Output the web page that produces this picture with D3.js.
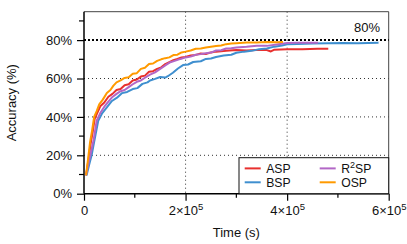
<!DOCTYPE html>
<html><head><meta charset="utf-8">
<script src="https://cdn.jsdelivr.net/npm/d3@7"></script>
<style>
body{margin:0;background:#fff;}
text{font-family:"Liberation Sans",Arial,Helvetica,sans-serif;fill:#111;}
</style></head><body>
<svg id="c" width="407" height="244"></svg>
<script>
// ---- data ----
const seriesNames = ["ASP", "BSP", "R2SP", "OSP"];
const aspTime = [4000,9000,13000,17000,21000,26000,32000,40000,48000,56000,64000,72000,80000,88000,96000,104000,112000,120000,128000,136000,144000,152000,160000,168000,176000,184000,192000,200000,210000,220000,230000,240000,250000,260000,280000,300000,320000,340000,360000,368000,375000,400000,430000,460000,481000];
const aspAcc  = [9.5,18,26,32,39,42,45.5,47.5,50.5,52,54,54.5,56.5,57,59,59.5,61,61.5,63.5,63.8,65,65.8,67.5,68.5,69.5,70.2,71,71.2,72,72.3,73,72.8,73.6,74,74.4,74.8,74.6,74.9,74.8,74.1,75,75.2,75.2,75.5,75.5];
const bspTime = [5000,10000,15000,20000,28000,36000,45000,55000,65000,75000,85000,96000,105000,115000,125000,130000,140000,150000,160000,165000,175000,185000,195000,205000,215000,230000,240000,250000,260000,275000,290000,300000,315000,330000,345000,360000,375000,390000,400000,420000,450000,480000,510000,540000,580000];
const bspAcc  = [9.5,15,20,27,38,42,45,48.3,50,52.4,53,54.5,55,57.2,58,59,59.8,60.8,60.5,61.2,63,65.2,67,67.3,68.6,69,70.2,70.4,71.2,72,72.4,73.4,74,74.4,75.3,75.6,76.6,77.2,77.8,78,78.3,78.4,78.5,78.4,78.6];
const r2spTime = [4000,9000,14000,19000,25000,32000,40000,48000,56000,64000,72000,80000,88000,96000,104000,112000,120000,130000,140000,150000,160000,170000,180000,190000,200000,210000,220000,230000,240000,250000,260000,270000,280000,290000,300000,320000,340000,360000,380000,400000,420000,440000,461000];
const r2spAcc  = [9.5,16,22,28,38,42,45.3,48,50.4,52,53.4,54,55.5,57,58.3,59,60.4,62,63.2,65,66.8,68.5,69.3,70.2,71,71.4,72.4,72.7,73.2,73.5,74.6,74.7,75.6,75.8,76.2,76.5,77.1,77,77.7,78.5,78.6,78.6,78.6];
const ospTime = [4000,8000,12000,16000,20000,25000,30000,37000,45000,52000,58000,64000,72000,80000,88000,96000,104000,112000,120000,128000,136000,144000,152000,160000,168000,176000,184000,192000,200000,210000,220000,230000,240000,250000,260000,270000,280000,290000,300000,320000,340000,360000,380000,392000];
const ospAcc  = [9.5,18,27,33,40,43,46.5,49,52.5,54,56.3,58,59,60.3,60.6,62.5,62.8,65,65.6,67.5,67.8,69.2,70,70.6,71,72.2,72.4,73.6,74,74.6,75.5,75.6,76.1,76.5,76.9,77.2,77.9,78.2,78.4,78.8,78.7,79,78.9,79];
const seriesColors = ["#e8302e", "#3f8fcf", "#b267c6", "#ff9a00"];
const yTicks = [0, 20, 40, 60, 80];
const yMinor = [10, 30, 50, 70, 90];
const xTicks = [0, 200000, 400000, 600000];
const xMinor = [100000, 300000, 500000];
const targetAcc = 80;

// ---- layout ----
const FS = 13;
const LFS = 12.2;
const svg = d3.select("#c");
const L = 84, R = 388.7, T = 11.7, B = 193.7;
const x = d3.scaleLinear().domain([0, 600000]).range([L, R]);
const y = d3.scaleLinear().domain([0, 94.8]).range([B, T]);

const series = [
  {name: "ASP", t: aspTime, v: aspAcc},
  {name: "BSP", t: bspTime, v: bspAcc},
  {name: "R2SP", t: r2spTime, v: r2spAcc},
  {name: "OSP", t: ospTime, v: ospAcc}
];

// grid
const g = svg.append("g");
g.selectAll(".hg").data(yTicks.filter(d => d > 0 && d !== targetAcc)).enter().append("line")
  .attr("x1", L).attr("x2", R).attr("y1", d => y(d)).attr("y2", d => y(d))
  .attr("stroke", "#333").attr("stroke-width", 1).attr("stroke-dasharray", "1,3");
g.selectAll(".vg").data(xTicks.filter(d => d > 0 && d < 600000)).enter().append("line")
  .attr("x1", d => x(d)).attr("x2", d => x(d)).attr("y1", T).attr("y2", B)
  .attr("stroke", "#333").attr("stroke-width", 1).attr("stroke-dasharray", "1,3");

// frame top/right
svg.append("line").attr("x1", L).attr("x2", R).attr("y1", T).attr("y2", T).attr("stroke", "#444").attr("stroke-width", 1);
svg.append("line").attr("x1", R).attr("x2", R).attr("y1", T).attr("y2", B).attr("stroke", "#444").attr("stroke-width", 1);

// lines
const line = d3.line().x(d => x(d[0])).y(d => y(d[1]));
series.forEach((s, i) => {
  svg.append("path").datum(s.t.map((t, j) => [t, s.v[j]]))
    .attr("fill", "none").attr("stroke", seriesColors[i]).attr("stroke-width", 2)
    .attr("stroke-linejoin", "round").attr("d", line);
});

// 80% target line
svg.append("line").attr("x1", L).attr("x2", R).attr("y1", y(targetAcc)).attr("y2", y(targetAcc))
  .attr("stroke", "#000").attr("stroke-width", 2).attr("stroke-dasharray", "2,2");
svg.append("text").attr("x", 380).attr("y", 32).attr("text-anchor", "end")
  .attr("font-size", FS).text(targetAcc + "%");

// axes
const yAxis = d3.axisLeft(y).tickValues(yTicks).tickSize(7).tickPadding(5).tickFormat(d => d + "%");
const ya = svg.append("g").attr("transform", `translate(${L},0)`).call(yAxis);
ya.select(".domain").attr("stroke-width", 1.5).attr("d", `M0,${B}V${T}`);
ya.selectAll(".tick line").attr("stroke-width", 1.2);
ya.selectAll("text").attr("font-size", FS).attr("font-family", "Liberation Sans, Arial, sans-serif").attr("fill", "#111");
ya.selectAll(".minor").data(yMinor).enter().append("line").attr("class", "minor")
  .attr("x1", -5).attr("x2", 0).attr("y1", d => y(d)).attr("y2", d => y(d)).attr("stroke", "#000").attr("stroke-width", 1.2);

const xAxis = d3.axisBottom(x).tickValues(xTicks).tickSize(7).tickPadding(4).tickFormat(() => "");
const xa = svg.append("g").attr("transform", `translate(0,${B})`).call(xAxis);
xa.select(".domain").attr("stroke-width", 1.5).attr("d", `M${L},0H${R}`);
xa.selectAll(".tick line").attr("stroke-width", 1.2);
xa.selectAll(".minor").data(xMinor).enter().append("line").attr("class", "minor")
  .attr("x1", d => x(d)).attr("x2", d => x(d)).attr("y1", 0).attr("y2", 4).attr("stroke", "#000").attr("stroke-width", 1.2);
xa.selectAll(".tick").each(function(d) {
  const t = d3.select(this).select("text").attr("font-size", FS).attr("fill", "#111")
    .attr("font-family", "Liberation Sans, Arial, sans-serif").attr("dy", null).attr("y", 21.5);
  if (d === 0) { t.text("0"); }
  else {
    t.text(null);
    t.append("tspan").text((d / 100000) + "×10");
    t.append("tspan").attr("font-size", 9.5).attr("dy", -5.5).text("5");
  }
});

// axis titles
svg.append("text").attr("transform", `translate(16,${(T + B) / 2}) rotate(-90)`)
  .attr("text-anchor", "middle").attr("font-size", FS).text("Accuracy (%)");
svg.append("text").attr("x", (L + R) / 2).attr("y", 237).attr("text-anchor", "middle")
  .attr("font-size", FS).text("Time (s)");

// legend
const lg = svg.append("g");
lg.append("rect").attr("x", 239).attr("y", 157.7).attr("width", R - 239).attr("height", B - 157.7)
  .attr("fill", "#fff").attr("stroke", "#111").attr("stroke-width", 1);
const legPos = [[244.7, 168.4], [244.7, 182.3], [319.7, 168.4], [319.7, 182.3]];
series.forEach((s, i) => {
  const [lx, ly] = legPos[i];
  lg.append("line").attr("x1", lx).attr("x2", lx + 16).attr("y1", ly).attr("y2", ly)
    .attr("stroke", seriesColors[i]).attr("stroke-width", 2);
  const tx = lg.append("text").attr("x", lx + 21.5).attr("y", ly + 4.5).attr("font-size", LFS);
  if (s.name === "R2SP") {
    tx.append("tspan").text("R");
    tx.append("tspan").attr("font-size", 9).attr("dy", -5).text("2");
    tx.append("tspan").attr("dy", 5).text("SP");
  } else tx.text(s.name);
});
</script>
</body></html>
